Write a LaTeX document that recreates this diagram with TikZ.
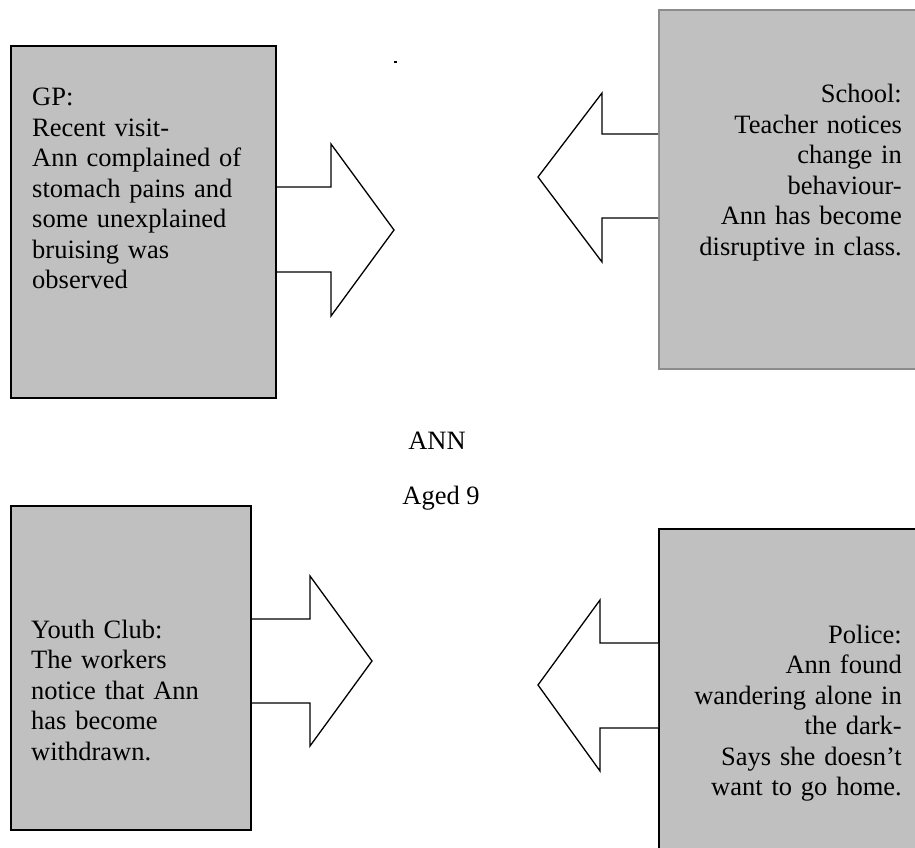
\documentclass[tikz,border=0pt]{standalone}
\usepackage{fontspec}
\setmainfont{Liberation Serif}
\definecolor{boxgray}{HTML}{C0C0C0}
\definecolor{edgegray}{HTML}{8C8C8C}
\begin{document}
\begin{tikzpicture}[x=1pt,y=-1pt,
  box/.style={rectangle, fill=boxgray, draw=black, line width=2pt, inner sep=0pt, anchor=north west},
  blockarrow/.style={draw=black, fill=white, line width=1.3pt, line join=miter},
  boxtext/.style={inner sep=0pt, text width=260pt, font=\fontsize{26.5}{30.5}\selectfont},
  midtext/.style={inner sep=0pt, anchor=base, font=\fontsize{26.5}{30.5}\selectfont}]
\useasboundingbox (0,0) rectangle (915,848);
% boxes
\node[box, minimum width=265pt, minimum height=352pt] (gp) at (10,45) {};
\node[box, draw=edgegray, minimum width=265pt, minimum height=359pt] (school) at (658,9) {};
\node[box, minimum width=240pt, minimum height=324pt] (youth) at (10,505) {};
\node[box, minimum width=265pt, minimum height=340pt] (police) at (658,528) {};
% arrow coordinates
\coordinate (a1t) at (331,187); \coordinate (a1b) at (331,272);
\coordinate (a2t) at (602,134); \coordinate (a2b) at (602,218);
\coordinate (a3t) at (310,619); \coordinate (a3b) at (310,703);
\coordinate (a4t) at (600,643); \coordinate (a4b) at (600,728);
% arrows
\draw[blockarrow] (gp.east |- a1t) -- (a1t) -- (331,144) -- (394,230) -- (331,316) -- (a1b) -- (gp.east |- a1b);
\draw[blockarrow] (school.west |- a2t) -- (a2t) -- (602,93) -- (538,177) -- (602,262) -- (a2b) -- (school.west |- a2b);
\draw[blockarrow] (youth.east |- a3t) -- (a3t) -- (310,576) -- (372,661) -- (310,746) -- (a3b) -- (youth.east |- a3b);
\draw[blockarrow] (police.west |- a4t) -- (a4t) -- (600,600) -- (538,685) -- (600,771) -- (a4b) -- (police.west |- a4b);
% texts
\node[boxtext, align=left, anchor=base west] (gptext) at (32,106)
  {GP:\\Recent visit-\\Ann complained of\\stomach pains and\\some unexplained\\bruising was\\observed};
\node[boxtext, align=right, anchor=base east] (schooltext) at (902,103)
  {School:\\Teacher notices\\change in\\behaviour-\\Ann has become\\disruptive in class.};
\node[boxtext, align=left, anchor=base west] (youthtext) at (31,638)
  {Youth Club:\\The workers\\notice that Ann\\has become\\withdrawn.};
\node[boxtext, align=right, anchor=base east] (policetext) at (902,643)
  {Police:\\Ann found\\wandering alone in\\the dark-\\Says she doesn’t\\want to go home.};
\node[midtext] (ann) at (437,449) {ANN};
\node[midtext] (aged) at (441,504) {Aged 9};
\fill (393.5,61) rectangle (396.5,63);
\end{tikzpicture}
\end{document}
